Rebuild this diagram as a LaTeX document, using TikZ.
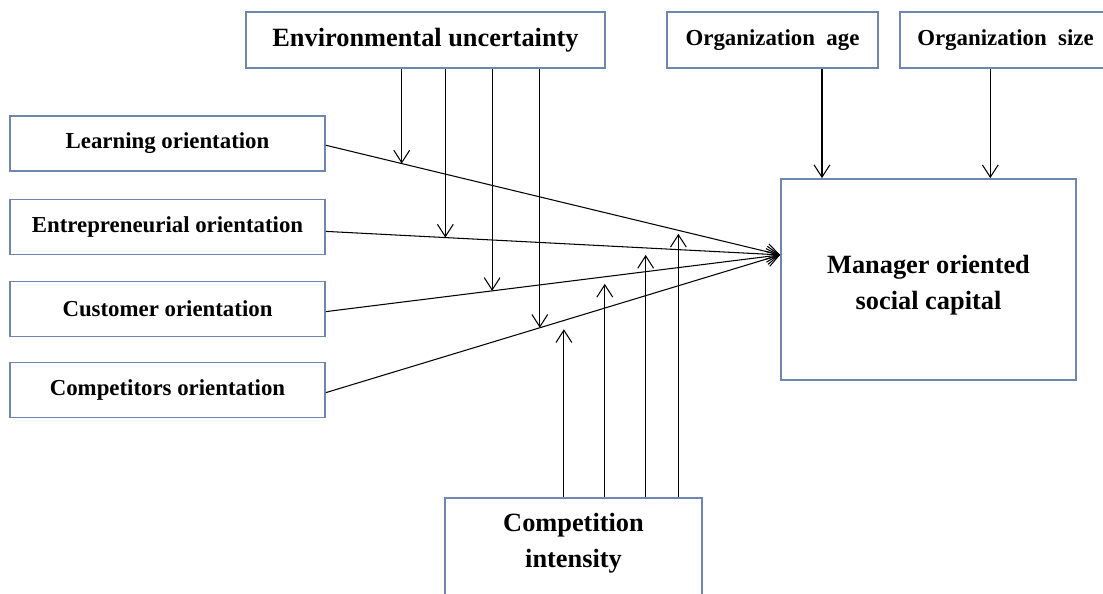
\documentclass[tikz,border=0pt]{standalone}
\usepackage{fontspec}
\setmainfont{Liberation Serif}
\usetikzlibrary{arrows.meta,calc}
\definecolor{boxblue}{HTML}{6F87B0}

\begin{document}
\begin{tikzpicture}[x=0.02cm,y=-0.02cm,
  box/.style={draw=boxblue,line width=1pt,inner sep=0pt,align=center,font=\bfseries\fontsize{13}{16}\selectfont},
  big/.style={font=\bfseries\fontsize{15}{20.5}\selectfont},
  link/.style={line width=0.6pt,-{Straight Barb[length=7pt,width=9pt]}}]
  \useasboundingbox (0,0) rectangle (1103,594);
  \clip (0,0) rectangle (1103,594);
  \node[box,big,minimum width=7.18cm,minimum height=1.12cm] (eu) at (425.5,40) {Environmental uncertainty};
  \node[box,minimum width=4.22cm,minimum height=1.12cm] (oa) at (772.5,40) {Organization\ \ age};
  \node[box,minimum width=4.22cm,minimum height=1.12cm] (os) at (1005.5,40) {Organization\ \ size};
  \node[box,minimum width=6.3cm,minimum height=1.1cm] (lo) at (167.5,143.5) {Learning orientation};
  \node[box,minimum width=6.3cm,minimum height=1.1cm] (en) at (167.5,227) {Entrepreneurial orientation};
  \node[box,minimum width=6.3cm,minimum height=1.1cm] (cu) at (167.5,309) {Customer orientation};
  \node[box,minimum width=6.3cm,minimum height=1.1cm] (co) at (167.5,390) {Competitors orientation};
  \node[box,big,minimum width=5.9cm,minimum height=4.02cm] (mgr) at (928.5,279.5) {};
  \node[big,inner sep=0pt,align=center] (mgrt) at ([yshift=-3pt]mgr.center) {Manager oriented\\social capital};
  \node[box,minimum width=5.14cm,minimum height=2.4cm,anchor=north] (ci) at (573.5,497) {};
  \node[big,inner sep=0pt,align=center,anchor=north] (cit) at ([yshift=-9pt]ci.north) {Competition\\intensity};

  \coordinate (hub) at ([yshift=14pt]mgr.west);
  \coordinate (ta) at ([xshift=23.8pt]mgr.north west);
  \coordinate (ts) at ([xshift=119.6pt]mgr.north west);

  \draw[link] ([yshift=-1pt]lo.east) -- coordinate[pos=0.167] (e1) coordinate[pos=0.776] (k4) (hub);
  \draw[link] ([yshift=-2.5pt]en.east) -- coordinate[pos=0.263] (e2) coordinate[pos=0.704] (k3) (hub);
  \draw[link] ([yshift=-1.5pt]cu.east) -- coordinate[pos=0.366] (e3) coordinate[pos=0.614] (k2) (hub);
  \draw[link] ([yshift=-1.5pt]co.east) -- coordinate[pos=0.471] (e4) coordinate[pos=0.524] (k1) (hub);

  \draw[link] (eu.south -| e1) -- (e1);
  \draw[link] (eu.south -| e2) -- (e2);
  \draw[link] (eu.south -| e3) -- (e3);
  \draw[link] (eu.south -| e4) -- (e4);

  \draw[link] (ci.north -| k1) -- ([yshift=-5pt]k1);
  \draw[link] (ci.north -| k2) -- ([yshift=-4pt]k2);
  \draw[link] (ci.north -| k3) -- ([yshift=-4pt]k3);
  \draw[link] (ci.north -| k4) -- ([yshift=-2pt]k4);

  \draw[link] (oa.south -| ta) -- (ta);
  \draw[link] (os.south -| ts) -- (ts);
\end{tikzpicture}
\end{document}
